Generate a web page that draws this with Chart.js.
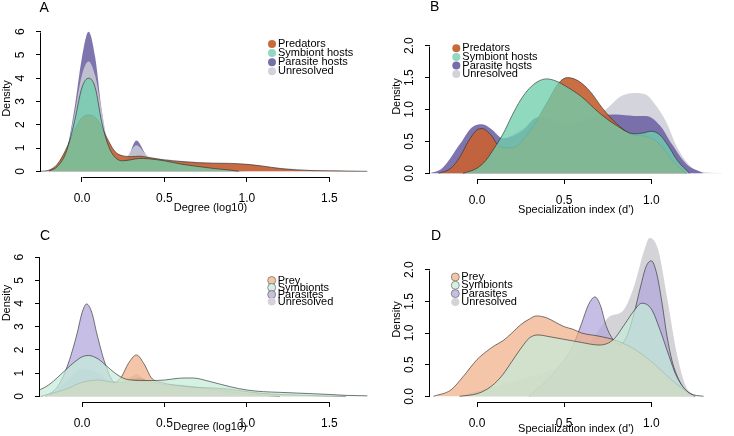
<!DOCTYPE html>
<html><head><meta charset="utf-8">
<script src="https://cdn.jsdelivr.net/npm/chart.js@4.4.1/dist/chart.umd.min.js"></script>
<style>
html,body{margin:0;padding:0;background:#fff;}
#wrap{position:relative;width:734px;height:436px;overflow:hidden;background:#fff;}
canvas{position:absolute;}
</style></head><body>
<div id="wrap">
<canvas id="cA" width="380" height="218" style="left:0px;top:0px"></canvas>
<canvas id="cB" width="355" height="218" style="left:367px;top:0px"></canvas>
<canvas id="cC" width="380" height="246" style="left:0px;top:190px"></canvas>
<canvas id="cD" width="355" height="246" style="left:367px;top:190px"></canvas>
</div>
<script>
// ---------- categories / labels ----------
const namesTop = ['Predators', 'Symbiont hosts', 'Parasite hosts', 'Unresolved'];
const namesBottom = ['Prey', 'Symbionts', 'Parasites', 'Unresolved'];
const degreeTicks = [0, 0.5, 1, 1.5];
const degreeDensityTicks = [0, 1, 2, 3, 4, 5, 6];
const specTicks = [0, 0.5, 1];
const specDensityTicks = [0, 0.5, 1, 1.5, 2];

// ---------- Panel A: degree, consumer groups ----------
const aPredX = [-0.25,-0.2,-0.15,-0.1,-0.05,0,0.05,0.1,0.15,0.2,0.25,0.3,0.35,0.4,0.5,0.6,0.7,0.8,0.9,1.0,1.1,1.2,1.3,1.4,1.5,1.6,1.73];
const aPredY = [0,0.05,0.3,0.9,1.7,2.3,2.42,2.15,1.45,0.85,0.66,0.63,0.65,0.6,0.49,0.42,0.37,0.35,0.34,0.3,0.22,0.12,0.06,0.03,0.02,0.01,0];
const aSymX = [-0.2,-0.15,-0.1,-0.05,0,0.04,0.08,0.12,0.16,0.2,0.25,0.3,0.35,0.4,0.5,0.6,0.7,0.8,0.9,0.95];
const aSymY = [0,0.2,0.75,2.0,3.6,4.0,3.6,2.1,1.1,0.6,0.45,0.5,0.55,0.54,0.45,0.31,0.21,0.12,0.05,0];
const aParX = [-0.18,-0.1,-0.05,0,0.04,0.08,0.12,0.16,0.2,0.25,0.28,0.33,0.38,0.42,0.5,0.6,0.8,1.0];
const aParY = [0,0.7,2.5,4.9,6.0,4.9,2.6,1.0,0.45,0.3,0.6,1.32,0.8,0.3,0.15,0.1,0.05,0];
const aUnrX = [-0.18,-0.1,-0.05,0,0.04,0.08,0.12,0.16,0.2,0.25,0.28,0.33,0.38,0.42,0.5,0.6,0.8,1.0,1.2,1.4,1.6,1.73];
const aUnrY = [0,0.6,2.3,4.15,4.72,4.1,2.6,1.1,0.5,0.45,0.7,1.12,0.8,0.55,0.52,0.45,0.35,0.3,0.15,0.05,0.02,0];

// ---------- Panel B: specialization, consumer groups ----------
const bPredX = [-0.22,-0.15,-0.1,-0.05,0,0.03,0.08,0.13,0.2,0.3,0.4,0.47,0.52,0.58,0.65,0.72,0.8,0.9,0.97,1.05,1.12,1.2];
const bPredY = [0,0.08,0.25,0.5,0.68,0.7,0.6,0.42,0.4,0.65,1.1,1.42,1.5,1.45,1.28,1.02,0.78,0.6,0.58,0.45,0.2,0];
const bSymX = [-0.08,0,0.05,0.1,0.15,0.2,0.25,0.3,0.35,0.4,0.45,0.5,0.6,0.7,0.8,0.9,0.95,1.0,1.05,1.1,1.15,1.22];
const bSymY = [0,0.08,0.2,0.4,0.62,0.9,1.15,1.33,1.44,1.48,1.45,1.38,1.2,0.95,0.75,0.62,0.63,0.66,0.6,0.42,0.2,0];
const bParX = [-0.27,-0.2,-0.1,-0.03,0.03,0.08,0.15,0.25,0.35,0.45,0.5,0.6,0.7,0.8,0.9,0.97,1.05,1.12,1.2,1.3];
const bParY = [0,0.08,0.45,0.72,0.77,0.7,0.55,0.65,0.88,0.82,0.76,0.82,0.9,0.92,0.9,0.9,0.75,0.45,0.15,0];
const bUnrX = [-0.1,0,0.1,0.2,0.3,0.4,0.5,0.6,0.7,0.76,0.82,0.9,0.97,1.03,1.09,1.14,1.18,1.23,1.28,1.45];
const bUnrY = [0,0.2,0.45,0.6,0.75,0.85,0.78,0.82,0.92,1.05,1.2,1.26,1.23,1.05,0.78,0.45,0.26,0.1,0.03,0];

// ---------- Panel C: degree, resource groups ----------
const cPreyX = [-0.25,-0.1,0,0.1,0.2,0.24,0.28,0.33,0.38,0.42,0.48,0.6,0.7,0.8,0.9,1.0,1.1,1.2,1.4,1.6];
const cPreyY = [0,0.3,0.6,0.7,0.6,0.85,1.4,1.78,1.35,0.8,0.6,0.45,0.38,0.36,0.3,0.2,0.12,0.08,0.03,0];
const cSymX = [-0.32,-0.25,-0.2,-0.15,-0.09,-0.05,0,0.04,0.1,0.15,0.2,0.25,0.3,0.35,0.4,0.5,0.59,0.67,0.78,0.9,1.0,1.1,1.2,1.3,1.4,1.5,1.6,1.73];
const cSymY = [0.15,0.3,0.5,0.8,1.2,1.45,1.7,1.76,1.6,1.3,1.0,0.78,0.7,0.68,0.68,0.7,0.78,0.79,0.63,0.41,0.27,0.2,0.17,0.14,0.11,0.08,0.04,0.02];
const cParX = [-0.22,-0.15,-0.09,-0.03,0,0.028,0.06,0.09,0.14,0.2,0.25,0.3,0.35,0.4,0.5,0.6,0.8,1.0,1.2];
const cParY = [0,0.4,1.28,2.7,3.6,3.98,3.6,2.7,1.42,0.6,0.6,0.7,0.75,0.65,0.5,0.45,0.3,0.1,0];
const cUnrX = [-0.2,-0.1,0,0.1,0.2,0.28,0.33,0.38,0.45,0.6,0.8,1.0,1.2,1.5];
const cUnrY = [0,0.6,1.2,1.0,0.5,0.75,0.95,0.75,0.6,0.5,0.35,0.2,0.08,0];

// ---------- Panel D: specialization, resource groups ----------
const dPreyX = [-0.25,-0.15,-0.08,0,0.05,0.1,0.15,0.2,0.25,0.3,0.34,0.4,0.45,0.5,0.55,0.6,0.7,0.8,0.9,1.0,1.1,1.2,1.25];
const dPreyY = [0,0.1,0.31,0.58,0.7,0.8,0.88,1.0,1.13,1.22,1.27,1.24,1.17,1.1,1.06,1.0,0.95,0.88,0.75,0.55,0.3,0.08,0];
const dSymX = [-0.1,0,0.05,0.1,0.15,0.2,0.25,0.3,0.35,0.4,0.5,0.6,0.7,0.78,0.85,0.9,0.945,1.0,1.05,1.1,1.146,1.22,1.3];
const dSymY = [0,0.04,0.1,0.2,0.35,0.55,0.75,0.92,0.97,0.95,0.9,0.85,0.81,0.89,1.15,1.35,1.47,1.38,1.05,0.65,0.31,0.05,0];
const dParX = [0.3,0.45,0.55,0.6,0.64,0.677,0.71,0.74,0.78,0.82,0.86,0.9,0.94,0.97,1.0,1.03,1.06,1.09,1.12,1.16,1.2,1.25];
const dParY = [0,0.4,0.8,1.15,1.45,1.57,1.42,1.12,0.9,0.82,0.95,1.3,1.75,2.05,2.14,1.95,1.5,0.95,0.55,0.25,0.08,0];
const dUnrX = [-0.1,0.1,0.3,0.5,0.6,0.7,0.76,0.84,0.9,0.96,0.99,1.04,1.09,1.15,1.2,1.25,1.3];
const dUnrY = [0,0.15,0.3,0.5,0.7,1.05,1.26,1.36,1.73,2.31,2.5,2.31,1.57,0.63,0.15,0.02,0];

// ---------- styles ----------
const FONT = '"Liberation Sans", Arial, Helvetica, sans-serif';
Chart.defaults.font.family = FONT;
Chart.defaults.color = '#000';
const OUT = 'rgba(45,45,45,0.8)';
const NONE = 'rgba(0,0,0,0)';
const topFill = {
  pred: 'rgba(198,98,52,0.92)', sym: 'rgba(111,208,173,0.78)',
  par: 'rgba(112,102,166,0.9)', unr: 'rgba(205,205,215,0.85)'
};
const topLegend = ['#c96a3b', '#8fd9bf', '#786caa', '#d2d2da'];
const botFill = {
  prey: 'rgba(240,175,135,0.72)', sym: 'rgba(195,236,216,0.72)',
  par: 'rgba(180,168,220,0.75)', unr: 'rgba(200,200,206,0.8)'
};
const botLegend = ['#f4c5a7', '#d6f1e4', '#c7bfe3', '#d3d3d8'];

const PANELS = {
  cA: {
    letter: 'A', letterX: 39.5, letterY: 11.7,
    pad: {left: 0, top: 20, right: 0}, yW: 41, xH: 41,
    xMin: -0.2486, xMax: 1.807, yMin: -0.245, yMax: 6.5,
    xTicks: degreeTicks, yTicks: degreeDensityTicks, yDec: 0,
    xTitle: 'Degree (log10)', xTitlePad: 3, xTickPad: 9,
    names: namesTop, legendColors: topLegend, legendOutline: false,
    legend: {x: 272, y: 44, step: 9.1},
    series: [
      {xs: aParX, ys: aParY, fill: topFill.par, line: NONE, order: 4},
      {xs: aUnrX, ys: aUnrY, fill: topFill.unr, line: NONE, order: 3},
      {xs: aPredX, ys: aPredY, fill: topFill.pred, line: OUT, order: 2},
      {xs: aSymX, ys: aSymY, fill: topFill.sym, line: OUT, order: 1}
    ]
  },
  cB: {
    letter: 'B', letterX: 63, letterY: 11.3,
    pad: {left: 23, top: 14, right: 0}, yW: 40, xH: 39,
    xMin: -0.2697, xMax: 1.4056, yMin: -0.089, yMax: 2.497,
    xTicks: specTicks, yTicks: specDensityTicks, yDec: 1,
    xTitle: "Specialization index (d')", xTitlePad: 1.5, xTickPad: 9.5,
    names: namesTop, legendColors: topLegend, legendOutline: false,
    legend: {x: 89.3, y: 48.3, step: 8.6},
    series: [
      {xs: bUnrX, ys: bUnrY, fill: topFill.unr, line: NONE, order: 4},
      {xs: bParX, ys: bParY, fill: topFill.par, line: NONE, order: 3},
      {xs: bPredX, ys: bPredY, fill: topFill.pred, line: OUT, order: 2},
      {xs: bSymX, ys: bSymY, fill: topFill.sym, line: OUT, order: 1}
    ]
  },
  cC: {
    letter: 'C', letterX: 40, letterY: 49.7,
    pad: {left: 0, top: 14, right: 0}, yW: 40, xH: 34,
    xMin: -0.2547, xMax: 1.807, yMin: -0.246, yMax: 8.29,
    xTicks: degreeTicks, yTicks: degreeDensityTicks, yDec: 0,
    xTitle: 'Degree (log10)', xTitlePad: 2, xTickPad: 9,
    names: namesBottom, legendColors: botLegend, legendOutline: true,
    legend: {x: 271.7, y: 90.5, step: 7},
    series: [
      {xs: cUnrX, ys: cUnrY, fill: botFill.unr, line: NONE, order: 4},
      {xs: cParX, ys: cParY, fill: botFill.par, line: OUT, order: 3},
      {xs: cPreyX, ys: cPreyY, fill: botFill.prey, line: OUT, order: 2},
      {xs: cSymX, ys: cSymY, fill: botFill.sym, line: OUT, order: 1}
    ]
  },
  cD: {
    letter: 'D', letterX: 64, letterY: 49.7,
    pad: {left: 23, top: 47, right: 0}, yW: 40, xH: 34,
    xMin: -0.2697, xMax: 1.4056, yMin: -0.09, yMax: 2.517,
    xTicks: specTicks, yTicks: specDensityTicks, yDec: 1,
    xTitle: "Specialization index (d')", xTitlePad: 0.7, xTickPad: 9.5,
    names: namesBottom, legendColors: botLegend, legendOutline: true,
    legend: {x: 88.3, y: 87, step: 8.3},
    series: [
      {xs: dUnrX, ys: dUnrY, fill: botFill.unr, line: NONE, order: 4},
      {xs: dParX, ys: dParY, fill: botFill.par, line: OUT, order: 3},
      {xs: dPreyX, ys: dPreyY, fill: botFill.prey, line: OUT, order: 2},
      {xs: dSymX, ys: dSymY, fill: botFill.sym, line: OUT, order: 1}
    ]
  }
};

// R-style axes, panel letters and legends
const rStyle = {
  id: 'rStyle',
  afterDraw(chart) {
    const p = PANELS[chart.canvas.id];
    const ctx = chart.ctx, ca = chart.chartArea;
    const xs = chart.scales.x, ys = chart.scales.y;
    ctx.save();
    ctx.strokeStyle = '#000';
    ctx.lineWidth = 1;
    ctx.beginPath();
    const xb = Math.round(ca.bottom) + 0.5;
    ctx.moveTo(Math.round(xs.getPixelForValue(p.xTicks[0])) + 0.5, xb);
    ctx.lineTo(Math.round(xs.getPixelForValue(p.xTicks[p.xTicks.length - 1])) + 0.5, xb);
    const yl = Math.round(ca.left) - 0.5;
    ctx.moveTo(yl, Math.round(ys.getPixelForValue(p.yTicks[0])) + 0.5);
    ctx.lineTo(yl, Math.round(ys.getPixelForValue(p.yTicks[p.yTicks.length - 1])) + 0.5);
    ctx.stroke();
    // rotated y tick labels
    ctx.fillStyle = '#000';
    ctx.font = '12px ' + FONT;
    ctx.textAlign = 'center';
    ctx.textBaseline = 'middle';
    p.yTicks.forEach(v => {
      ctx.save();
      ctx.translate(ca.left - 20, ys.getPixelForValue(v));
      ctx.rotate(-Math.PI / 2);
      ctx.fillText(v.toFixed(p.yDec), 0, 0);
      ctx.restore();
    });
    // panel letter
    ctx.font = '14px ' + FONT;
    ctx.textAlign = 'left';
    ctx.textBaseline = 'alphabetic';
    ctx.fillText(p.letter, p.letterX, p.letterY);
    // legend
    ctx.font = '11px ' + FONT;
    ctx.textBaseline = 'middle';
    p.names.forEach((n, i) => {
      const y = p.legend.y + i * p.legend.step;
      ctx.beginPath();
      ctx.arc(p.legend.x, y, 4, 0, Math.PI * 2);
      ctx.fillStyle = p.legendColors[i];
      ctx.fill();
      if (p.legendOutline && i < 3) {
        ctx.strokeStyle = 'rgba(90,90,90,0.9)';
        ctx.lineWidth = 0.7;
        ctx.stroke();
      }
      ctx.fillStyle = '#000';
      ctx.fillText(n, p.legend.x + 6, y);
    });
    ctx.restore();
  }
};

function makeChart(id) {
  const p = PANELS[id];
  const datasets = p.series.map((s, i) => ({
    label: p.names[i],
    data: s.xs.map((x, j) => ({x: x, y: s.ys[j]})),
    backgroundColor: s.fill,
    borderColor: s.line,
    borderWidth: 0.8,
    fill: 'origin',
    pointRadius: 0,
    pointHoverRadius: 0,
    cubicInterpolationMode: 'monotone',
    order: s.order
  }));
  new Chart(document.getElementById(id), {
    type: 'line',
    data: {datasets: datasets},
    options: {
      responsive: false,
      animation: false,
      devicePixelRatio: 1,
      events: [],
      layout: {padding: {left: p.pad.left, top: p.pad.top, right: p.pad.right, bottom: 0}},
      plugins: {legend: {display: false}, tooltip: {enabled: false}, title: {display: false}},
      scales: {
        x: {
          type: 'linear', min: p.xMin, max: p.xMax,
          afterBuildTicks: s => { s.ticks = p.xTicks.map(v => ({value: v})); },
          afterFit: s => { s.height = p.xH; },
          grid: {display: true, drawOnChartArea: false, drawTicks: true, tickLength: 5, color: '#000', lineWidth: 1},
          border: {display: false},
          ticks: {font: {size: 12}, color: '#000', padding: p.xTickPad, maxRotation: 0, minRotation: 0, autoSkip: false,
                  callback: v => Number(v).toFixed(1)},
          title: {display: true, text: p.xTitle, font: {size: 11}, color: '#000', padding: {top: 0, bottom: p.xTitlePad}}
        },
        y: {
          type: 'linear', min: p.yMin, max: p.yMax,
          afterBuildTicks: s => { s.ticks = p.yTicks.map(v => ({value: v})); },
          afterFit: s => { s.width = p.yW; },
          grid: {display: true, drawOnChartArea: false, drawTicks: true, tickLength: 5, color: '#000', lineWidth: 1},
          border: {display: false},
          ticks: {display: false},
          title: {display: true, text: 'Density', font: {size: 11}, color: '#000', padding: {top: 0, bottom: 0}}
        }
      }
    },
    plugins: [rStyle]
  });
}
['cA', 'cB', 'cC', 'cD'].forEach(makeChart);
</script>
</body></html>
